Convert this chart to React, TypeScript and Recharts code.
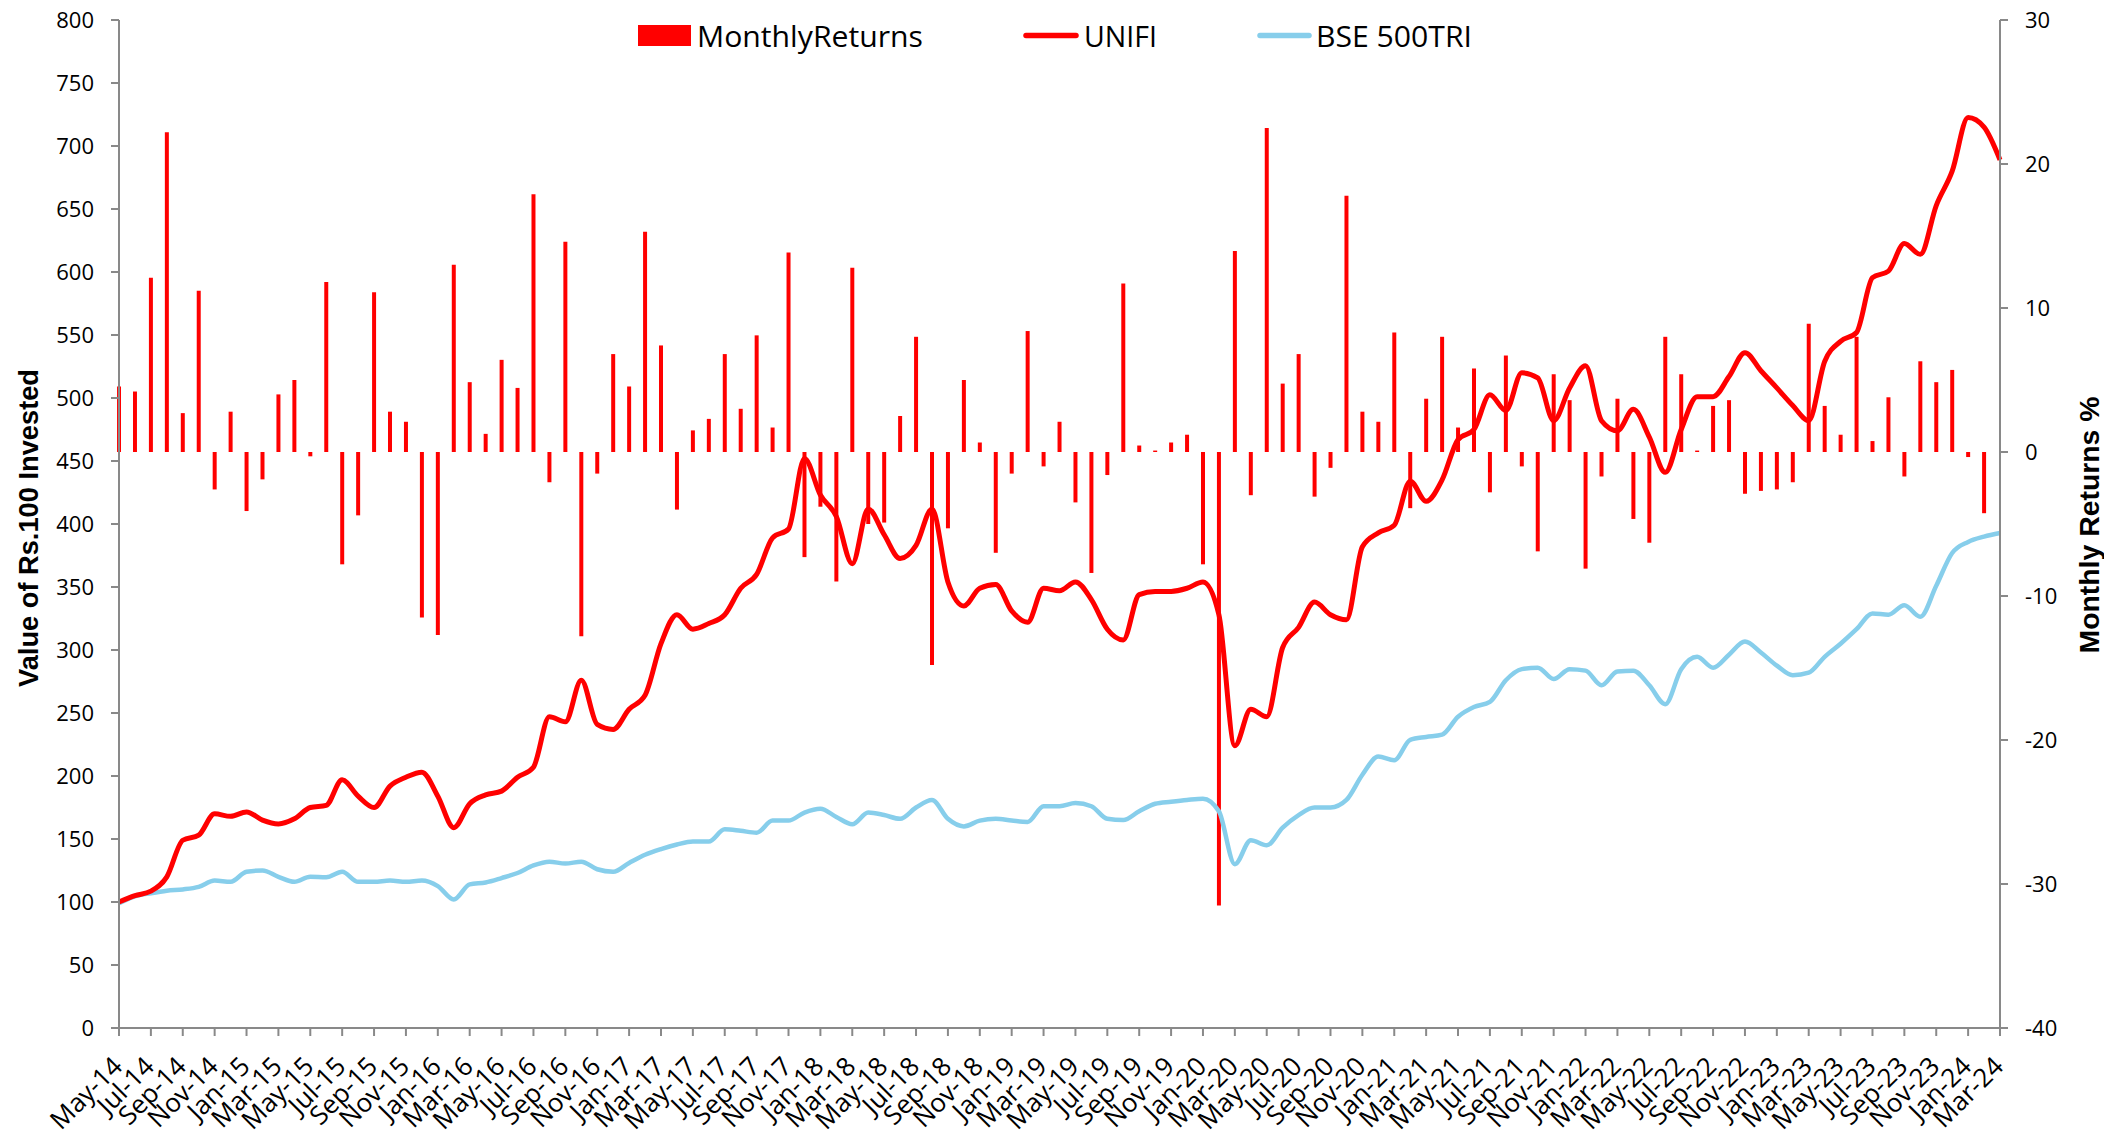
import React from 'react';
import { ComposedChart, Line, Bar, XAxis, YAxis } from 'recharts';

const months: string[] = [
  'May-14','Jun-14','Jul-14','Aug-14','Sep-14','Oct-14','Nov-14','Dec-14',
  'Jan-15','Feb-15','Mar-15','Apr-15','May-15','Jun-15','Jul-15','Aug-15','Sep-15','Oct-15','Nov-15','Dec-15',
  'Jan-16','Feb-16','Mar-16','Apr-16','May-16','Jun-16','Jul-16','Aug-16','Sep-16','Oct-16','Nov-16','Dec-16',
  'Jan-17','Feb-17','Mar-17','Apr-17','May-17','Jun-17','Jul-17','Aug-17','Sep-17','Oct-17','Nov-17','Dec-17',
  'Jan-18','Feb-18','Mar-18','Apr-18','May-18','Jun-18','Jul-18','Aug-18','Sep-18','Oct-18','Nov-18','Dec-18',
  'Jan-19','Feb-19','Mar-19','Apr-19','May-19','Jun-19','Jul-19','Aug-19','Sep-19','Oct-19','Nov-19','Dec-19',
  'Jan-20','Feb-20','Mar-20','Apr-20','May-20','Jun-20','Jul-20','Aug-20','Sep-20','Oct-20','Nov-20','Dec-20',
  'Jan-21','Feb-21','Mar-21','Apr-21','May-21','Jun-21','Jul-21','Aug-21','Sep-21','Oct-21','Nov-21','Dec-21',
  'Jan-22','Feb-22','Mar-22','Apr-22','May-22','Jun-22','Jul-22','Aug-22','Sep-22','Oct-22','Nov-22','Dec-22',
  'Jan-23','Feb-23','Mar-23','Apr-23','May-23','Jun-23','Jul-23','Aug-23','Sep-23','Oct-23','Nov-23','Dec-23',
  'Jan-24','Feb-24','Mar-24',
];

const unifi: number[] = [
  100, 105, 108.6, 120, 149, 153, 170, 168, 171.5, 165, 162, 166, 175, 176.7, 197, 184, 175, 192, 199, 203,
  184, 159, 178, 185, 188, 199, 207, 247, 243, 276, 241, 237, 253, 264, 305, 328, 316.5, 321, 328, 349,
  360, 389, 396, 452, 423, 406, 368.5, 412, 391.6, 372.6, 383, 412, 354, 335, 349, 352, 331, 322, 349, 347,
  354, 340, 316.5, 308, 344, 346.5, 346.5, 349, 354, 328, 224, 253, 247, 302, 318, 338, 328, 324, 382, 393,
  399, 434, 418, 435, 467, 475, 502.5, 490, 520, 516, 482, 508, 525.6, 482, 474, 491, 469, 441, 475, 501,
  501, 517, 536, 521.6, 508, 494, 482, 529, 545, 552, 595.5, 600.7, 622.6, 614, 652.7, 680, 722.6, 715, 689,
];

const bse500: number[] = [
  99, 104.5, 107, 109, 110, 112, 117, 116, 124, 125, 120, 116, 120, 119.6, 124, 116, 116, 117, 116, 117,
  112.6, 102, 114, 115.5, 119, 123, 129, 132, 130.5, 132, 126, 124, 131, 137.5, 142, 145.6, 148, 148, 157.7, 156.5,
  155, 164.6, 164.6, 171, 174, 167.5, 161.7, 171, 169, 166, 175, 181, 166, 160, 164.6, 166, 164.6, 163.5, 176, 176,
  178.5, 176, 166, 165, 172, 178, 179.6, 181, 182, 172, 130, 149, 145, 159, 169, 175, 175, 181, 201, 215.4,
  212.5, 228.7, 231, 232.8, 247, 254.7, 258.8, 276, 284.8, 286, 277, 284.8, 283.6, 272, 283, 283.6, 272, 257, 284.8, 294.6,
  286, 296.3, 306.7, 298, 287.6, 280, 282, 294.6, 305, 316.5, 329, 328, 335.6, 326.4, 351, 377, 385.8, 390, 392.8,
];

const monthlyReturns: (number | null)[] = [
  4.55, 4.2, 12.1, 22.2, 2.7, 11.2, -2.6, 2.8, -4.1, -1.9, 4.0, 5.0, -0.3, 11.8, -7.8, -4.4, 11.1, 2.8, 2.1, -11.5,
  -12.7, 13.0, 4.85, 1.26, 6.4, 4.45, 17.9, -2.1, 14.6, -12.8, -1.5, 6.8, 4.55, 15.3, 7.4, -4.0, 1.5, 2.3, 6.8, 3.0,
  8.1, 1.7, 13.85, -7.3, -3.8, -9.0, 12.8, -5.0, -4.9, 2.5, 8.0, -14.8, -5.3, 5.0, 0.66, -7.0, -1.5, 8.4, -1.0, 2.1,
  -3.5, -8.4, -1.6, 11.7, 0.45, 0.1, 0.66, 1.2, -7.8, -31.5, 13.95, -3.0, 22.5, 4.75, 6.8, -3.1, -1.1, 17.8, 2.8, 2.1,
  8.3, -3.9, 3.7, 8.0, 1.7, 5.8, -2.8, 6.7, -1.0, -6.9, 5.4, 3.6, -8.1, -1.7, 3.7, -4.65, -6.3, 8.0, 5.4, 0.1,
  3.2, 3.6, -2.9, -2.7, -2.6, -2.1, 8.9, 3.2, 1.2, 8.0, 0.76, 3.8, -1.7, 6.3, 4.85, 5.7, -0.35, -4.25, null,
];

const leftTicks: number[] = [0, 50, 100, 150, 200, 250, 300, 350, 400, 450, 500, 550, 600, 650, 700, 750, 800];
const rightTicks: number[] = [-40, -30, -20, -10, 0, 10, 20, 30];

const legendItems = [
  { name: 'MonthlyReturns', kind: 'rect', color: '#FF0000', sx: 638, sw: 53, tx: 697, tw: 226 },
  { name: 'UNIFI', kind: 'line', color: '#FF0000', sx: 1023, sw: 56, tx: 1084, tw: 73 },
  { name: 'BSE 500TRI', kind: 'line', color: '#87CEEB', sx: 1257, sw: 55, tx: 1316, tw: 156 },
];

const data = months.map((m, i) => ({
  month: m,
  unifi: unifi[i],
  bse: bse500[i],
  ret: monthlyReturns[i],
}));

const W = 2104;
const H = 1140;
const AXIS = '#898989';
const RED = '#FF0000';
const BLUE = '#87CEEB';
const FONT = 'Open Sans';

const XTick = (props: any) => {
  const { x, y, payload } = props;
  return (
    <g transform={`translate(${x},${y})`}>
      <text
        x={5}
        y={32}
        textAnchor="end"
        transform="rotate(-45 5 32)"
        fontFamily={FONT}
        fontSize={26}
        fill="#000"
      >
        {payload.value}
      </text>
    </g>
  );
};

const LegendOverlay = () => (
  <svg width={W} height={70} style={{ position: 'absolute', left: 0, top: 0, pointerEvents: 'none' }}>
    {legendItems.map((it) =>
      <g key={it.name}>
        {it.kind === 'rect' ? (
          <rect x={it.sx} y={25} width={it.sw} height={21} fill={it.color} />
        ) : (
          <line x1={it.sx + 3} x2={it.sx + it.sw - 3} y1={35.5} y2={35.5} stroke={it.color} strokeWidth={5.5} strokeLinecap="round" />
        )}
        <text
          x={it.tx}
          y={46.5}
          fontFamily={FONT}
          fontSize={29}
          textLength={it.tw}
          lengthAdjust="spacingAndGlyphs"
          fill="#000"
        >
          {it.name}
        </text>
      </g>
    )}
  </svg>
);

export default function App() {
  return (
    <div style={{ position: 'absolute', left: 0, top: 0, width: W, height: H, overflow: 'hidden', background: '#fff' }}>
      <ComposedChart width={W} height={H} data={data} margin={{ top: 20, right: 0, bottom: 0, left: 0 }}>
        <XAxis
          dataKey="month"
          scale="point"
          padding={{ left: 0, right: 0 }}
          interval={1}
          height={112}
          tick={<XTick />}
          tickSize={8}
          tickMargin={0}
          stroke={AXIS}
          strokeWidth={2}
          tickLine={{ stroke: AXIS, strokeWidth: 2 }}
        />
        <YAxis
          yAxisId="left"
          orientation="left"
          width={119}
          domain={[0, 800]}
          ticks={leftTicks}
          interval={0}
          tickSize={8}
          tickMargin={17}
          stroke={AXIS}
          strokeWidth={2}
          tick={{ fill: '#000', fontFamily: FONT, fontSize: 22 }}
          label={{
            content: () => (
              <text
                x={37.5}
                y={528}
                transform="rotate(-90 37.5 528)"
                textAnchor="middle"
                fontFamily="Liberation Sans"
                fontWeight="bold"
                fontSize={28}
                textLength={318}
                lengthAdjust="spacingAndGlyphs"
                fill="#000"
              >
                Value of Rs.100 Invested
              </text>
            ),
          }}
        />
        <YAxis
          yAxisId="right"
          orientation="right"
          width={104}
          domain={[-40, 30]}
          ticks={rightTicks}
          interval={0}
          tickSize={8}
          tickMargin={17}
          stroke={AXIS}
          strokeWidth={2}
          tick={{ fill: '#000', fontFamily: FONT, fontSize: 22 }}
          label={{
            content: () => (
              <text
                x={2099}
                y={525}
                transform="rotate(-90 2099 525)"
                textAnchor="middle"
                fontFamily="Liberation Sans"
                fontWeight="bold"
                fontSize={28}
                textLength={257}
                lengthAdjust="spacingAndGlyphs"
                fill="#000"
              >
                Monthly Returns %
              </text>
            ),
          }}
        />
        <Line
          yAxisId="left"
          type="monotone"
          dataKey="bse"
          stroke={BLUE}
          strokeWidth={4.5}
          dot={false}
          activeDot={false}
          isAnimationActive={false}
        />
        <Line
          yAxisId="left"
          type="monotone"
          dataKey="unifi"
          stroke={RED}
          strokeWidth={5}
          dot={false}
          activeDot={false}
          isAnimationActive={false}
        />
        <Bar
          yAxisId="right"
          dataKey="ret"
          fill={RED}
          barSize={4}
          isAnimationActive={false}
        />
      </ComposedChart>
      <LegendOverlay />
    </div>
  );
}
